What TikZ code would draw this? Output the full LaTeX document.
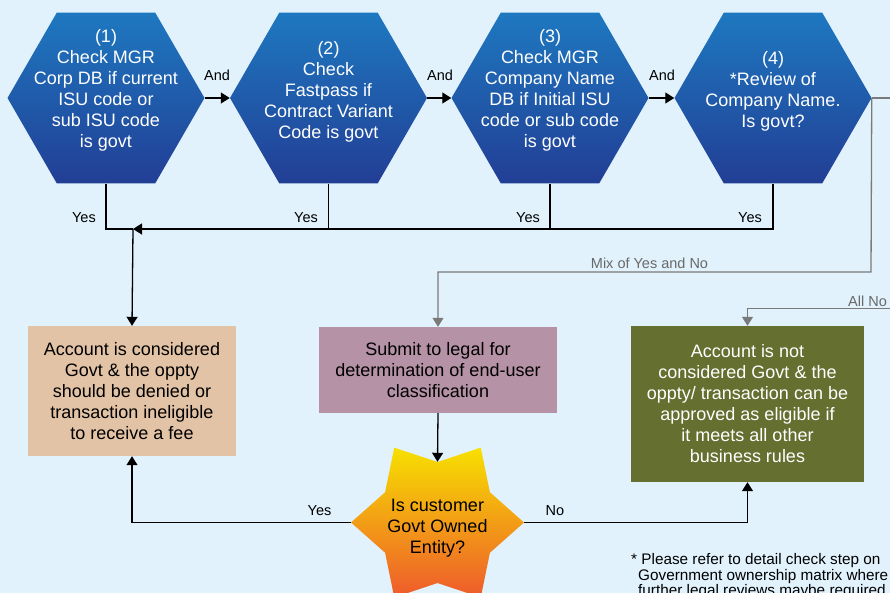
\documentclass[tikz,border=0pt]{standalone}
\usepackage{fontspec}
\setmainfont{Liberation Sans}
\usetikzlibrary{shapes.geometric,arrows.meta}
\definecolor{bg}{RGB}{225,242,252}
\definecolor{hexTop}{RGB}{30,120,192}
\definecolor{hexBot}{RGB}{34,62,149}
\definecolor{tanbox}{RGB}{227,195,165}
\definecolor{purplebox}{RGB}{181,146,166}
\definecolor{greenbox}{RGB}{100,111,48}
\definecolor{starTop}{RGB}{247,224,0}
\definecolor{starMid}{RGB}{242,160,34}
\definecolor{starBot}{RGB}{238,90,44}
\definecolor{grayline}{RGB}{122,122,122}
\definecolor{graytext}{RGB}{105,105,105}
\tikzset{
  hexbox/.style={regular polygon, regular polygon sides=6, minimum size=197pt, inner sep=0pt, draw=none, top color=hexTop, bottom color=hexBot},
  hextext/.style={text=white, align=center, font=\fontsize{18}{21}\selectfont, inner sep=0pt},
  rbox/.style={align=center, font=\fontsize{18}{21}\selectfont, inner sep=0pt},
  lbl/.style={font=\fontsize{14.5}{16}\selectfont, inner sep=0pt},
  conn/.style={line width=1.3pt, black},
  gconn/.style={line width=1.3pt, grayline},
  tip/.style={-{Triangle[length=9pt,width=11pt]}},
}
\begin{document}
\begin{tikzpicture}[x=1pt,y=-1pt]
\fill[bg] (0,0) rectangle (890,593);
\useasboundingbox (0,0) rectangle (890,593);

% hexagons
\node[hexbox] (h1) at (106,98) {};
\node[hexbox] (h2) at (328.5,98) {};
\node[hexbox] (h3) at (550,98) {};
\node[hexbox] (h4) at (773,98) {};
\node[hextext] (t1) at (106,90) {(1)\\Check MGR\\Corp DB if current\\ISU code or\\sub ISU code\\is govt};
\node[hextext] (t2) at (328.5,91.5) {(2)\\Check\\Fastpass if\\Contract Variant\\Code is govt};
\node[hextext] (t3) at (550,90) {(3)\\Check MGR\\Company Name\\DB if Initial ISU\\code or sub code\\is govt};
\node[hextext] (t4) at (773,91.5) {(4)\\*Review of\\Company Name.\\Is govt?};

% boxes
\node[rbox, fill=tanbox, minimum width=208pt, minimum height=130pt] (tan) at (132,391) {Account is considered\\Govt \& the oppty\\should be denied or\\transaction ineligible\\to receive a fee};
\node[rbox, fill=purplebox, minimum width=238pt, minimum height=86pt] (pur) at (438,370) {Submit to legal for\\determination of end-user\\classification};
\node[rbox, fill=greenbox, text=white, minimum width=233pt, minimum height=156pt] (grn) at (747.5,404) {Account is not\\considered Govt \& the\\oppty/ transaction can be\\approved as eligible if\\it meets all other\\business rules};

% star
\node[star, star points=6, star point ratio=1.43, minimum size=173pt, inner sep=0pt, shape border rotate=30, draw=none, top color=starTop, middle color=starMid, bottom color=starBot] (st) at (437.5,522.5) {};
\node[rbox] (stt) at (437.5,528.5) {Is customer\\Govt Owned\\Entity?};

% And connectors
\draw[conn,tip] (h1.east) -- (h2.west);
\draw[conn,tip] (h2.east) -- (h3.west);
\draw[conn,tip] (h3.east) -- (h4.west);
\node[lbl] (a1) at (217,75) {And};
\node[lbl] (a2) at (440,75) {And};
\node[lbl] (a3) at (662,75) {And};

% Yes collection
\coordinate (jn) at (133,229);
\draw[conn,tip] (h4.south) |- (jn);
\draw[conn] (h1.south) |- (jn);
\draw[conn] (h2.south) -- (h2.south |- jn);
\draw[conn] (h3.south) -- (h3.south |- jn);
\draw[conn,tip] (jn) -- (tan.north);
\node[lbl, anchor=east] (y1) at (96,218) {Yes};
\node[lbl, anchor=east] (y2) at (318,218) {Yes};
\node[lbl, anchor=east] (y3) at (540,218) {Yes};
\node[lbl, anchor=east] (y4) at (762,218) {Yes};

% gray connectors
\coordinate (offR) at (891,98);
\coordinate (mixc) at (871,272);
\coordinate (allno) at (891,308.5);
\draw[gconn] (h4.east) -- (offR);
\draw[gconn,tip] (h4.east) -- (mixc) -| (pur.north);
\draw[gconn,tip] (allno) -| (grn.north);
\node[lbl, text=graytext] (mix) at (649.5,263) {Mix of Yes and No};
\node[lbl, text=graytext, anchor=west] (alln) at (848,301) {All No};

% bottom connectors
\draw[conn,tip] (pur.south) -- (st.north);
\draw[conn,tip] (st.west) -| (tan.south);
\draw[conn,tip] (st.east) -| (grn.south);
\node[lbl] (yb) at (319.5,511) {Yes};
\node[lbl] (nb) at (555,511) {No};

% footnote
\node[anchor=north west, align=left, inner sep=0pt, font=\fontsize{15.3}{15.6}\selectfont] (fn) at (631,553.5) {* Please refer to detail check step on\\\hspace*{7pt}Government ownership matrix where\\\hspace*{7pt}further legal reviews maybe required};
\end{tikzpicture}
\end{document}
